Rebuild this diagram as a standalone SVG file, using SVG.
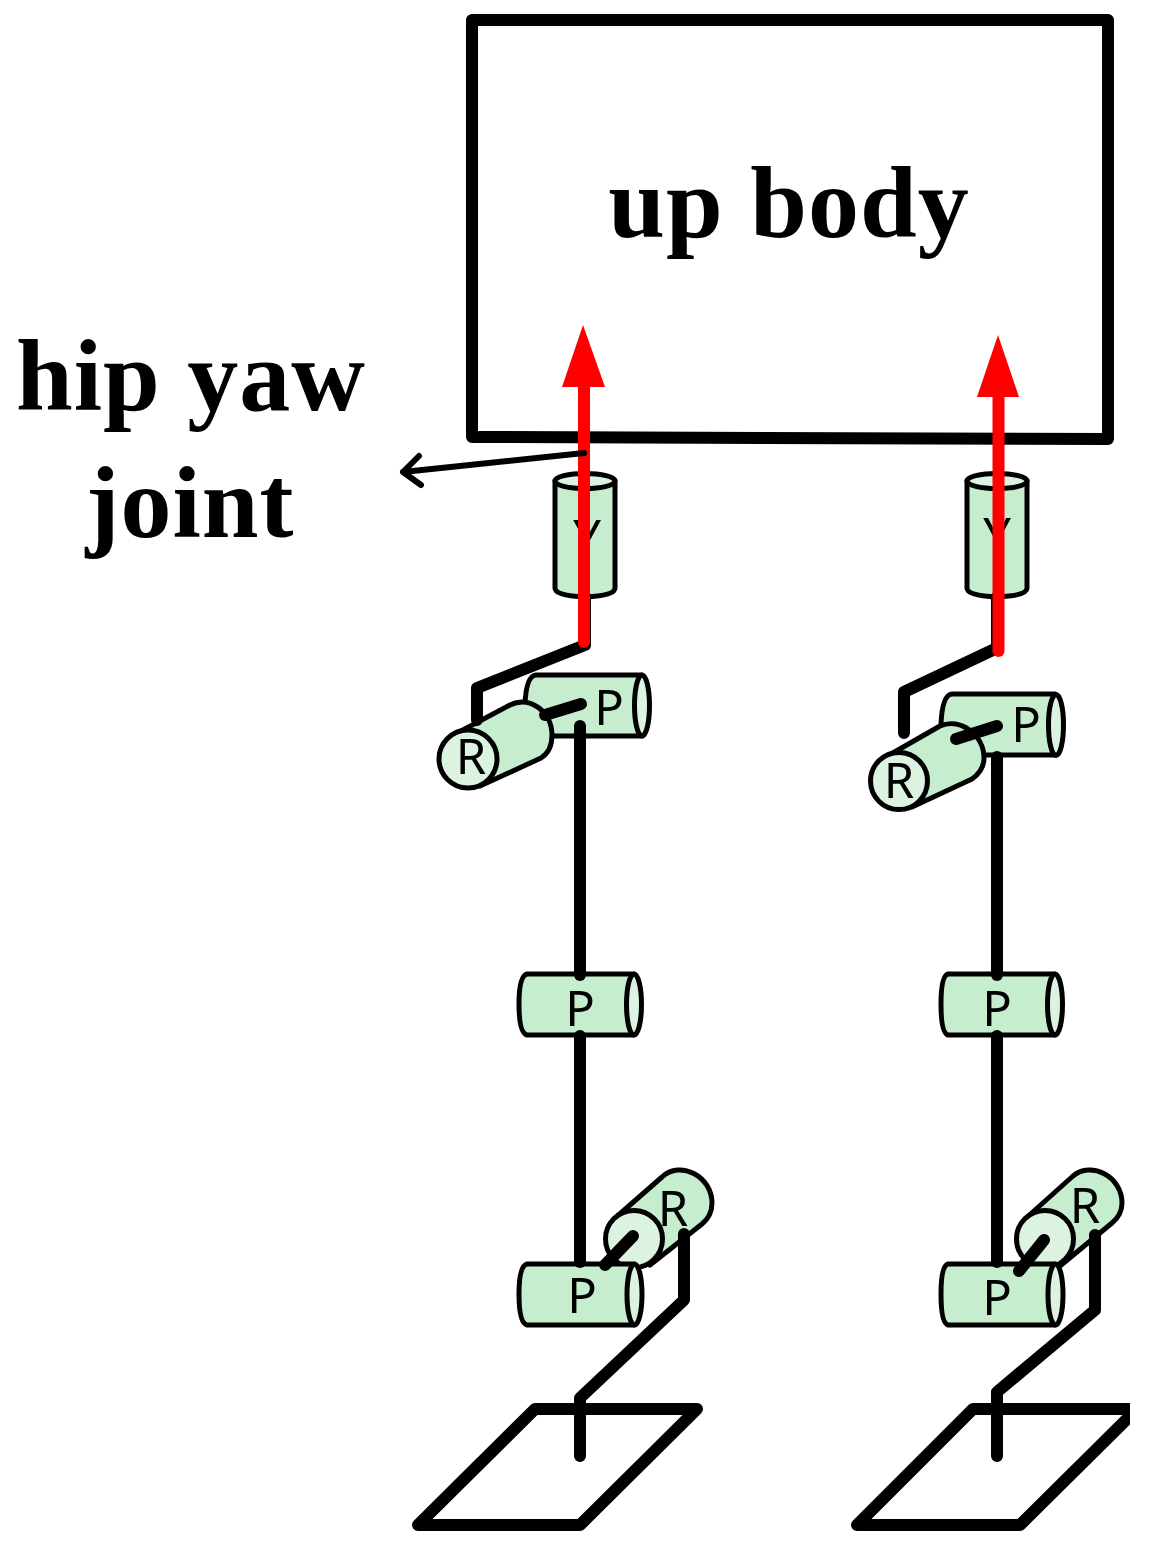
<svg xmlns="http://www.w3.org/2000/svg" width="1152" height="1554" viewBox="0 0 1152 1554">
<style>
.title{font-family:"Liberation Serif","Times New Roman",serif;font-weight:700;font-size:102px;letter-spacing:1px;fill:#000;text-anchor:middle}
.joint{font-family:"Noto Sans","Open Sans",sans-serif;font-size:49px;fill:#000;text-anchor:middle}
.body{fill:#c6edcd;stroke:#000;stroke-width:5;stroke-linejoin:round}
.cap{fill:#dcf3e1;stroke:#000;stroke-width:5}
.link{fill:none;stroke:#000;stroke-width:12;stroke-linecap:round;stroke-linejoin:round}
.red{fill:none;stroke:#f00;stroke-width:12;stroke-linecap:round}
.redhead{fill:#f00}
.thin{fill:none;stroke:#000;stroke-width:6;stroke-linecap:round;stroke-linejoin:round}
</style>
<defs><clipPath id="footclip"><rect x="0" y="0" width="1130" height="1554"/></clipPath></defs>
<g id="up-body"><path class="link" d="M472 20H1108V439L472 437Z"/><text class="title" x="789" y="237">up body</text></g>
<g id="hip-yaw-label"><text class="title" x="191" y="410">hip yaw</text><text class="title" x="190" y="537">joint</text></g>

<g id="left-yaw"><path class="body" d="M555 481V588Q555 596 585 597Q615 596 615 588V481Z"/><ellipse class="cap" cx="585" cy="481" rx="30" ry="7.500"/><text class="joint" x="587" y="555">Y</text></g>
<g id="right-yaw"><path class="body" d="M967 481V588Q967 596 997 597Q1027 596 1027 588V481Z"/><ellipse class="cap" cx="997" cy="481" rx="30" ry="7.500"/><text class="joint" x="997" y="553">Y</text></g>

<g id="left-hip-pitch"><path class="body" d="M642 675H536Q526 676 525 705Q526 735 536 736H642Z"/><ellipse class="cap" cx="642" cy="705.500" rx="7.500" ry="30.500"/><text class="joint" x="609" y="725">P</text></g>
<g id="left-hip-roll"><path class="body" d="M461 731L510 705C530 695 552 712 552 735C552 746 549 753 541 758L480 786Z"/><circle class="cap" cx="468" cy="759" r="29"/><text class="joint" x="471" y="774">R</text></g>

<g id="right-hip-pitch"><path class="body" d="M1055 694H952Q942 695 941 725Q942 754 952 755H1055Z"/><ellipse class="cap" cx="1056" cy="725" rx="7.500" ry="30.500"/><text class="joint" x="1026" y="742">P</text></g>
<g id="right-hip-roll"><path class="body" d="M891 754L940 726C960 717 984 735 984 758C984 768 979 774 972 779L912 807Z"/><circle class="cap" cx="899" cy="781" r="28.500"/><text class="joint" x="899" y="798">R</text></g>

<g id="left-knee-pitch"><path class="body" d="M634 974H527Q519 976 519 1004Q519 1033 527 1035H634Z"/><ellipse class="cap" cx="634" cy="1004.500" rx="7.500" ry="30.500"/><text class="joint" x="580" y="1026">P</text></g>
<g id="right-knee-pitch"><path class="body" d="M1055 974H948Q941 976 941 1004Q941 1033 948 1035H1055Z"/><ellipse class="cap" cx="1055" cy="1004.500" rx="7.500" ry="30.500"/><text class="joint" x="997" y="1026">P</text></g>

<g id="left-ankle-roll"><path class="body" d="M614 1219L662 1177C680 1160 712 1176 712 1203C712 1212 708 1219 702 1224L650 1265L640 1262Z"/><circle class="cap" cx="634" cy="1239" r="28.500"/><text class="joint" x="673" y="1226">R</text></g>
<g id="left-ankle-pitch"><path class="body" d="M634 1264H527Q519 1266 519 1294Q519 1323 527 1325H634Z"/><ellipse class="cap" cx="634.500" cy="1294.500" rx="7.500" ry="30.500"/><text class="joint" x="582" y="1313">P</text></g>

<g id="right-ankle-roll"><path class="body" d="M1025 1219L1073 1176C1091 1161 1122 1176 1122 1203C1122 1212 1118 1218 1112 1223L1060 1266L1050 1255Z"/><circle class="cap" cx="1045" cy="1239" r="28.500"/><text class="joint" x="1085" y="1223">R</text></g>
<g id="right-ankle-pitch"><path class="body" d="M1055 1264H948Q941 1266 941 1294Q941 1323 948 1325H1055Z"/><ellipse class="cap" cx="1055.500" cy="1294.500" rx="7.500" ry="30.500"/><text class="joint" x="997" y="1315">P</text></g>

<g id="left-foot"><path class="link" d="M535 1409H697L580 1525H418Z"/></g>
<g id="right-foot" clip-path="url(#footclip)"><path class="link" d="M973 1409H1137L1020 1525H857Z"/></g>

<g id="connectors">
<path class="link" d="M585 597V645L477 688V720"/>
<path class="link" d="M545 715L581 704"/>
<path class="link" d="M580 726V975"/>
<path class="link" d="M580 1036V1262"/>
<path class="link" d="M605 1265L633 1236"/>
<path class="link" d="M684 1234V1300L580 1398V1456"/>
<path class="link" d="M997 597V648L904 692V733"/>
<path class="link" d="M956 739L997 726"/>
<path class="link" d="M997 757V975"/>
<path class="link" d="M997 1036V1262"/>
<path class="link" d="M1019 1271L1044 1240"/>
<path class="link" d="M1095 1235V1310L997 1392V1456"/>
<path class="red" d="M584 642V380"/>
<path class="redhead" d="M583 325L605 387H562Z"/>
<path class="red" d="M998.500 651V390"/>
<path class="redhead" d="M998 335L1019 397H977Z"/>
<path class="thin" d="M584 453L403 472M419 456L403 472L421 485"/>
</g>
</svg>
